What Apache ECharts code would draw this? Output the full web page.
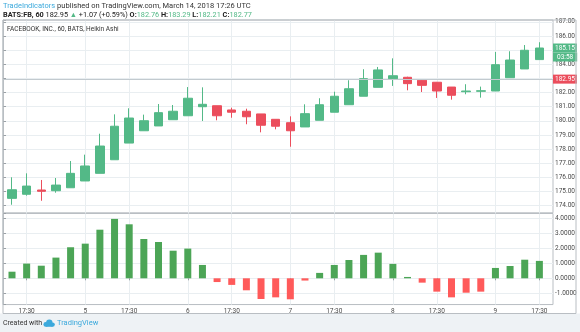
<!DOCTYPE html>
<html>
<head>
<meta charset="utf-8">
<script src="https://cdn.jsdelivr.net/npm/echarts@6/dist/echarts.min.js"></script>
<style>
  html, body { margin: 0; padding: 0; background: #ffffff; }
  #chart { width: 580px; height: 332px; }
</style>
</head>
<body>
<div id="chart"></div>
<script>
// Hourly bars (UTC), FB on BATS
const categories = [
  '2018-03-02 16:30', '2018-03-02 17:30', '2018-03-02 18:30', '2018-03-02 19:30', '2018-03-02 20:30',
  '2018-03-05 14:30', '2018-03-05 15:30', '2018-03-05 16:30', '2018-03-05 17:30', '2018-03-05 18:30', '2018-03-05 19:30', '2018-03-05 20:30',
  '2018-03-06 14:30', '2018-03-06 15:30', '2018-03-06 16:30', '2018-03-06 17:30', '2018-03-06 18:30', '2018-03-06 19:30', '2018-03-06 20:30',
  '2018-03-07 14:30', '2018-03-07 15:30', '2018-03-07 16:30', '2018-03-07 17:30', '2018-03-07 18:30', '2018-03-07 19:30', '2018-03-07 20:30',
  '2018-03-08 14:30', '2018-03-08 15:30', '2018-03-08 16:30', '2018-03-08 17:30', '2018-03-08 18:30', '2018-03-08 19:30', '2018-03-08 20:30',
  '2018-03-09 14:30', '2018-03-09 15:30', '2018-03-09 16:30', '2018-03-09 17:30'
];

// Heikin Ashi candles
const haOpen = [
  174.52, 174.81, 175.11, 175.06, 175.27, 175.75, 176.29, 177.25, 178.43, 179.30,
  179.64, 180.08, 180.36, 181.00, 181.07, 180.77, 180.68, 180.49, 180.11, 179.87,
  179.57, 180.04, 180.61, 181.14, 181.74, 182.37, 182.98, 183.08, 182.87, 182.73,
  182.39, 182.06, 182.09, 182.11, 183.05, 183.67, 184.33
];
const haClose = [
  175.13, 175.39, 175.02, 175.46, 176.29, 176.81, 178.22, 179.62, 180.20, 180.01,
  180.58, 180.68, 181.60, 181.17, 180.36, 180.61, 180.29, 179.69, 179.62, 179.30,
  180.51, 181.14, 181.74, 182.27, 182.98, 183.60, 183.19, 182.63, 182.51, 182.11,
  181.81, 182.11, 182.13, 183.97, 184.30, 184.99, 185.15
];
const haLow = [
  174.07, 174.71, 174.35, 174.92, 175.27, 175.75, 176.29, 177.25, 178.43, 179.30,
  179.64, 180.08, 180.36, 179.99, 180.04, 180.22, 179.76, 179.19, 179.40, 178.17,
  179.57, 180.04, 180.61, 181.14, 181.74, 182.37, 182.47, 182.16, 182.04, 181.62,
  181.50, 181.88, 181.64, 182.11, 183.05, 183.67, 184.33
];
const haHigh = [
  176.01, 176.29, 175.82, 175.96, 177.16, 177.61, 179.09, 180.46, 180.89, 180.44,
  181.19, 181.12, 182.39, 182.37, 181.07, 180.93, 180.86, 180.49, 180.11, 180.32,
  181.17, 181.60, 182.06, 182.87, 183.65, 183.81, 184.42, 183.12, 182.89, 182.75,
  182.39, 182.59, 182.42, 184.87, 184.92, 185.36, 185.56
];

// Oscillator histogram (lower pane)
const histogram = [
  0.44, 0.98, 0.84, 1.38, 2.07, 2.31, 3.24, 3.96, 3.60, 2.62,
  2.42, 1.84, 1.98, 0.89, -0.25, -0.44, -0.80, -1.38, -1.27, -1.40,
  -0.15, 0.36, 0.89, 1.22, 1.56, 1.71, 0.96, 0.09, -0.29, -0.89,
  -1.27, -0.96, -0.89, 0.69, 0.82, 1.24, 1.16
];

// Last traded price and bar countdown shown on the price scale
const lastPrice = 182.95;
const countdown = '03:58';

// Header legend
const publisher = 'TradeIndicators';
const publishedText = ' published on TradingView.com, March 14, 2018 17:26 UTC';
const symbolText = 'BATS:FB, 60';
const changeText = '+1.07 (+0.59%)';
const legendOHLC = { O: '182.76', H: '183.29', L: '182.21', C: '182.77' };
const paneTitle = 'FACEBOOK, INC., 60, BATS, Heikin Ashi';

const UP = '#53b987';
const DOWN = '#eb4d5c';
const HIST_UP = '#4ca556';
const HIST_DOWN = '#ff5a5a';
const GRID_LINE = '#e9eef1';
const BORDER = '#b9bec3';
const TEXT = '#4a4a4a';
const BRAND = '#3ba9dc';
const FONT = 'Roboto, "Open Sans", sans-serif';

const candleData = haOpen.map((o, i) => [o, haClose[i], haLow[i], haHigh[i]]);

const timeOf = (c) => c.slice(11);
const isMarked = (i) => {
  const t = timeOf(categories[i]);
  return t === '14:30' || t === '17:30';
};
const xLabel = (value) => {
  const t = timeOf(value);
  return t === '14:30' ? String(Number(value.slice(8, 10))) : t;
};

// pixel layout of the panes
const frameLeft = 3, scaleX = 553;
const barsLeft = 4.67, barsRight = 546.7;
const mainTop = 20, mainBottom = 212.8;
const lowTop = 213.5, lowBottom = 304.55;

const chart = echarts.init(document.getElementById('chart'), null, { renderer: 'canvas' });

const priceRange = { min: 173.5, max: 187.13 };
const oscRange = { min: -1.75, max: 4.32 };

const hiddenX = (gridIndex) => ({ type: 'value', gridIndex, min: 0, max: 1, show: false });

const option = {
  animation: false,
  backgroundColor: '#ffffff',
  textStyle: { fontFamily: FONT },
  grid: [
    { left: frameLeft, right: 580 - scaleX, top: mainTop, height: mainBottom - mainTop,
      show: true, borderColor: BORDER, borderWidth: 1, backgroundColor: 'transparent' },
    { left: barsLeft, right: 580 - barsRight, top: mainTop, height: mainBottom - mainTop },
    { left: frameLeft, right: 580 - scaleX, top: lowTop, height: lowBottom - lowTop,
      show: true, borderColor: BORDER, borderWidth: 1, backgroundColor: 'transparent' },
    { left: barsLeft, right: 580 - barsRight, top: lowTop, height: lowBottom - lowTop }
  ],
  xAxis: [
    hiddenX(0),
    {
      type: 'category', gridIndex: 1, data: categories, boundaryGap: true,
      axisLine: { show: false }, axisTick: { show: false }, axisLabel: { show: false },
      splitLine: { show: true, interval: (i) => isMarked(i), alignWithLabel: true,
        lineStyle: { color: GRID_LINE, width: 1 } }
    },
    hiddenX(2),
    {
      type: 'category', gridIndex: 3, data: categories, boundaryGap: true,
      axisLine: { show: false },
      axisTick: { show: true, interval: (i) => isMarked(i), alignWithLabel: true, length: 2,
        lineStyle: { color: '#9aa0a5' } },
      axisLabel: { show: true, interval: (i) => isMarked(i), formatter: xLabel,
        fontSize: 6.5, color: TEXT, margin: 3, fontFamily: FONT },
      splitLine: { show: true, interval: (i) => isMarked(i), alignWithLabel: true,
        lineStyle: { color: GRID_LINE, width: 1 } }
    }
  ],
  yAxis: [
    {
      type: 'value', gridIndex: 0, position: 'right', scale: true,
      min: priceRange.min, max: priceRange.max, minInterval: 1, maxInterval: 1,
      axisLine: { show: true, lineStyle: { color: BORDER } },
      axisTick: { show: true, length: 3, lineStyle: { color: '#9aa0a5' } },
      axisLabel: { fontSize: 6.5, color: TEXT, margin: 2, fontFamily: FONT,
        formatter: (v) => (Math.abs(v - Math.round(v)) < 1e-6 ? v.toFixed(2) : '') },
      splitLine: { show: true, showMinLine: false, showMaxLine: false,
        lineStyle: { color: GRID_LINE, width: 1 } }
    },
    { type: 'value', gridIndex: 1, min: priceRange.min, max: priceRange.max, show: false },
    {
      type: 'value', gridIndex: 2, position: 'right',
      min: oscRange.min, max: oscRange.max, minInterval: 1, maxInterval: 1,
      axisLine: { show: true, lineStyle: { color: BORDER } },
      axisTick: { show: true, length: 3, lineStyle: { color: '#9aa0a5' } },
      axisLabel: { fontSize: 6.5, color: TEXT, margin: 2, fontFamily: FONT,
        formatter: (v) => (Math.abs(v - Math.round(v)) < 1e-6 ? v.toFixed(4) : '') },
      splitLine: { show: true, showMinLine: false, showMaxLine: false,
        lineStyle: { color: GRID_LINE, width: 1 } }
    },
    { type: 'value', gridIndex: 3, min: oscRange.min, max: oscRange.max, show: false }
  ],
  series: [
    {
      // price-scale markers: last price line and current bar value with countdown
      type: 'line', xAxisIndex: 0, yAxisIndex: 0, data: [], z: 1,
      markLine: {
        silent: true, symbol: 'none', animation: false,
        data: [
          {
            yAxis: lastPrice,
            lineStyle: { color: '#c2cacf', width: 1, type: 'solid' },
            label: { show: true, position: 'end', distance: 0, formatter: lastPrice.toFixed(2),
              backgroundColor: DOWN, color: '#fff', fontSize: 6.5, padding: [1, 2, 1, 2],
              lineHeight: 7, fontFamily: FONT }
          },
          {
            yAxis: haClose[haClose.length - 1],
            lineStyle: { color: 'transparent', width: 0 },
            label: { show: true, position: 'end', distance: 0,
              formatter: haClose[haClose.length - 1].toFixed(2),
              backgroundColor: UP, color: '#fff', fontSize: 6.5, padding: [1, 2, 1, 2],
              lineHeight: 7, fontFamily: FONT }
          },
          {
            yAxis: haClose[haClose.length - 1],
            lineStyle: { color: 'transparent', width: 0 },
            label: { show: true, position: 'end', distance: 0, formatter: countdown,
              offset: [0, 9], backgroundColor: UP, color: '#fff', fontSize: 6.5,
              padding: [1, 4, 1, 4], lineHeight: 7, fontFamily: FONT }
          }
        ]
      }
    },
    {
      type: 'candlestick', xAxisIndex: 1, yAxisIndex: 1, data: candleData, barWidth: 9, z: 3,
      itemStyle: { color: UP, color0: DOWN, borderColor: UP, borderColor0: DOWN, borderWidth: 1 }
    },
    {
      type: 'bar', xAxisIndex: 3, yAxisIndex: 3, data: histogram, barWidth: 7, z: 3,
      itemStyle: { color: (p) => (p.value >= 0 ? HIST_UP : HIST_DOWN) }
    }
  ],
  graphic: [
    { type: 'rect', left: 0, top: 313.5, shape: { width: 580, height: 19 },
      style: { fill: '#eef2f5' }, silent: true, z: -10 },
    { type: 'rect', shape: { x: 3, y: 20, width: 573, height: 293.5 },
      style: { fill: 'none', stroke: BORDER, lineWidth: 1 }, silent: true, z: 10 },
    {
      type: 'text', x: 3, y: 6, silent: true,
      style: {
        text: '{pub|' + publisher + '}' + publishedText,
        fill: '#333', fontSize: 7.5, fontFamily: FONT, verticalAlign: 'middle',
        rich: { pub: { fill: BRAND, fontSize: 7.5, fontFamily: FONT } }
      }
    },
    {
      type: 'text', x: 3, y: 15, silent: true,
      style: {
        text: '{b|' + symbolText + '} ' + lastPrice.toFixed(2) + ' {up|\u25B2} ' + changeText +
          ' {b|O:}{g|' + legendOHLC.O + '} {b|H:}{g|' + legendOHLC.H + '} {b|L:}{g|' +
          legendOHLC.L + '} {b|C:}{g|' + legendOHLC.C + '}',
        fill: '#222', fontSize: 7.3, fontFamily: FONT, verticalAlign: 'middle',
        rich: {
          b: { fontWeight: 'bold', fill: '#222', fontSize: 7.3, fontFamily: FONT },
          g: { fill: UP, fontSize: 7.3, fontFamily: FONT },
          up: { fill: UP, fontSize: 7.3, fontFamily: FONT }
        }
      }
    },
    {
      type: 'text', x: 7, y: 29, silent: true, z: 11,
      style: { text: paneTitle, fill: '#333', fontSize: 6.5, fontFamily: FONT, verticalAlign: 'middle' }
    },
    {
      type: 'text', x: 3, y: 323.5, silent: true,
      style: { text: 'Created with', fill: '#333', fontSize: 7, fontFamily: FONT, verticalAlign: 'middle' }
    },
    // small cloud logo
    { type: 'circle', shape: { cx: 45.8, cy: 324.4, r: 2.4 }, style: { fill: BRAND }, silent: true },
    { type: 'circle', shape: { cx: 49.3, cy: 322.6, r: 3.2 }, style: { fill: BRAND }, silent: true },
    { type: 'circle', shape: { cx: 52.6, cy: 324.6, r: 2.2 }, style: { fill: BRAND }, silent: true },
    { type: 'rect', shape: { x: 45.8, y: 324, width: 6.8, height: 2.8 }, style: { fill: BRAND }, silent: true },
    {
      type: 'text', x: 57, y: 323.5, silent: true,
      style: { text: 'TradingView', fill: BRAND, fontSize: 7.5, fontFamily: FONT, verticalAlign: 'middle' }
    }
  ]
};

chart.setOption(option);
</script>
</body>
</html>
